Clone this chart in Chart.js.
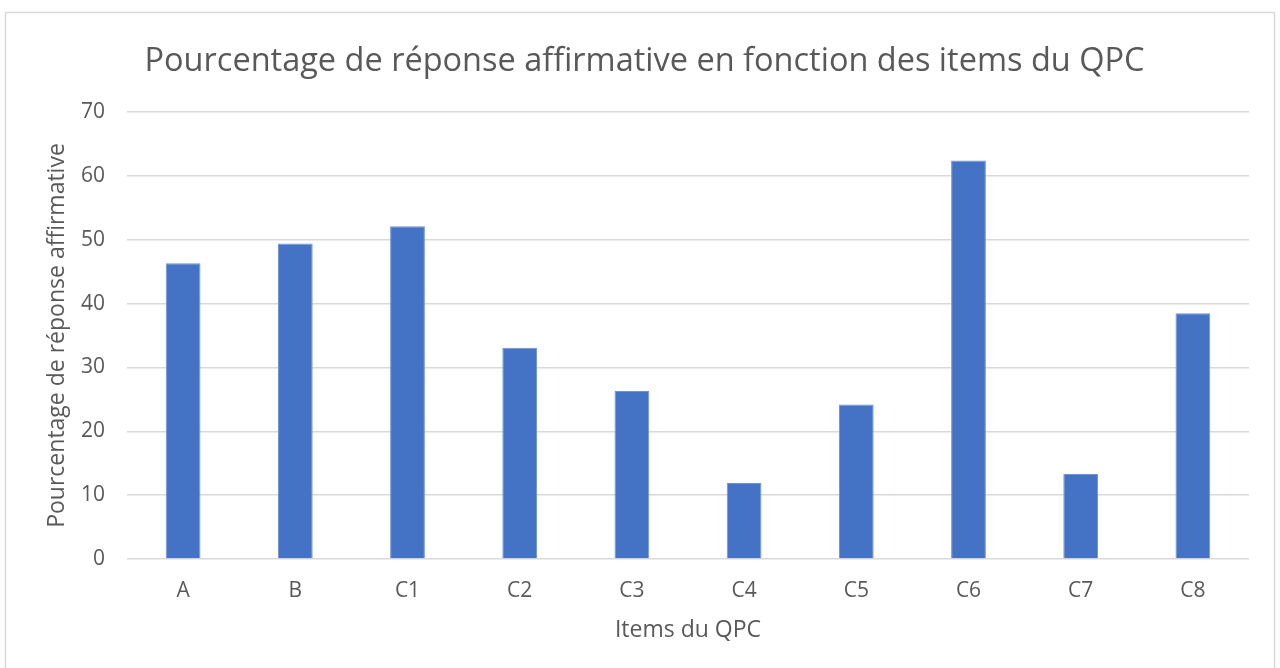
<!DOCTYPE html>
<html>
<head>
<meta charset="utf-8">
<script src="https://cdn.jsdelivr.net/npm/chart.js@4/dist/chart.umd.min.js"></script>
<style>
  html, body { margin: 0; padding: 0; background: #ffffff; }
  #wrap { width: 1280px; height: 668px; }
</style>
</head>
<body>
<div id="wrap"><canvas id="chart" width="1280" height="668"></canvas></div>
<script>
var categories = ['A', 'B', 'C1', 'C2', 'C3', 'C4', 'C5', 'C6', 'C7', 'C8'];
var values = [46.3, 49.4, 52.1, 33.1, 26.3, 11.9, 24.2, 62.4, 13.3, 38.5];
var yTicks = [0, 10, 20, 30, 40, 50, 60, 70];

var textColor = '#595959';
var gridColor = '#d9d9d9';
var fontFamily = '"Open Sans", "Noto Sans", sans-serif';

// light grey frame round the chart, like the office export
var framePlugin = {
    id: 'frame',
    beforeDraw: function (chart) {
        var ctx = chart.ctx;
        ctx.save();
        ctx.fillStyle = '#ffffff';
        ctx.fillRect(0, 0, chart.width, chart.height);
        ctx.strokeStyle = gridColor;
        ctx.lineWidth = 1.5;
        ctx.strokeRect(5.5, 12.5, 1269, 700);
        ctx.restore();
    }
};

var config = {
    type: 'bar',
    data: {
        labels: categories,
        datasets: [{
            label: 'Pourcentage de réponse affirmative',
            data: values,
            backgroundColor: '#4472c4',
            borderColor: '#6f93d4',
            borderWidth: 1,
            barPercentage: 0.31,
            categoryPercentage: 1.0
        }]
    },
    options: {
        responsive: false,
        animation: false,
        layout: {
            padding: { left: 40, right: 31, top: 0, bottom: 0 }
        },
        plugins: {
            legend: { display: false },
            tooltip: { enabled: false },
            title: {
                display: true,
                text: 'Pourcentage de réponse affirmative en fonction des items du QPC',
                color: textColor,
                font: { family: fontFamily, size: 32.5, weight: 'normal' },
                padding: { top: 42, bottom: 31 }
            }
        },
        scales: {
            x: {
                grid: { display: false, drawTicks: false },
                border: { display: false },
                ticks: {
                    color: textColor,
                    font: { family: fontFamily, size: 21 },
                    padding: 19
                },
                title: {
                    display: true,
                    text: 'Items du QPC',
                    color: textColor,
                    font: { family: fontFamily, size: 23 },
                    padding: { top: 0, bottom: 24 }
                },
                afterFit: function (axis) {
                    axis.height = 109;
                }
            },
            y: {
                min: 0,
                max: 70,
                afterBuildTicks: function (axis) {
                    axis.ticks = yTicks.map(function (v) { return { value: v }; });
                },
                grid: {
                    color: gridColor,
                    lineWidth: 1.5,
                    drawTicks: false
                },
                border: { display: false },
                ticks: {
                    color: textColor,
                    font: { family: fontFamily, size: 21 },
                    padding: 22
                },
                title: {
                    display: true,
                    text: 'Pourcentage de réponse affirmative',
                    color: textColor,
                    font: { family: fontFamily, size: 23 },
                    padding: { top: 4, bottom: 0 }
                },
                afterFit: function (axis) {
                    axis.width = 87;
                }
            }
        }
    },
    plugins: [framePlugin]
};

var ctx = document.getElementById('chart').getContext('2d');
window.myBar = new Chart(ctx, config);
</script>
</body>
</html>
